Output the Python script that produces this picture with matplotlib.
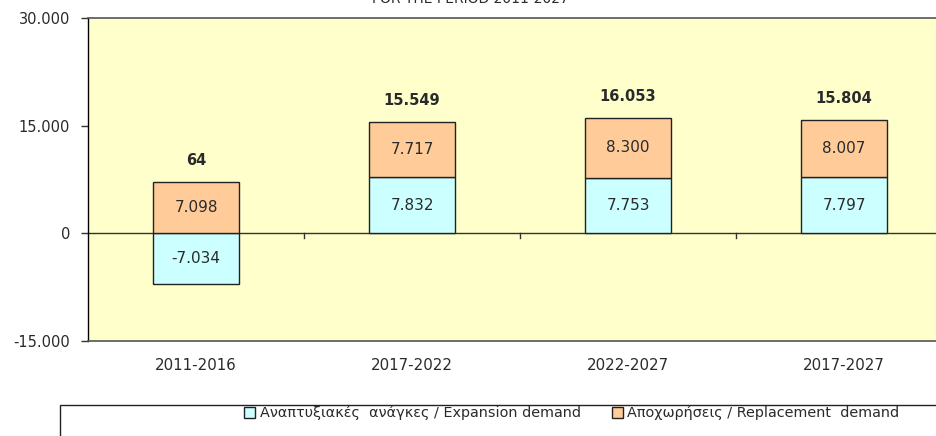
import matplotlib
matplotlib.use("Agg")
import matplotlib.pyplot as plt
from matplotlib.patches import Patch, Rectangle

categories = ["2011-2016", "2017-2022", "2022-2027", "2017-2027"]
expansion = [-7034, 7832, 7753, 7797]
replacement = [7098, 7717, 8300, 8007]
totals = [64, 15549, 16053, 15804]
series_names = ["Αναπτυξιακές  ανάγκες / Expansion demand",
                "Αποχωρήσεις / Replacement  demand"]
yticks = [-15000, 0, 15000, 30000]
title = "FOR THE PERIOD 2011-2027"

c_exp = "#CCFFFF"
c_rep = "#FFCC99"
bg = "#FFFFCC"

def fmt(v):
    return f"{v:,}".replace(",", ".")

W, H = 937, 436
fig = plt.figure(figsize=(W / 100, H / 100), dpi=100)
fig.patch.set_facecolor("white")
ax = fig.add_axes([88 / W, 1 - 341 / H, 864 / W, 323 / H])
ax.set_facecolor(bg)
ax.set_xlim(0, 4)
ax.set_ylim(-15000, 30000)

x = [i + 0.5 for i in range(len(categories))]
bw = 0.4
ax.bar(x, expansion, width=bw, color=c_exp, edgecolor="#222222", linewidth=1.0, zorder=3)
rep_bottom = [max(e, 0) for e in expansion]
ax.bar(x, replacement, width=bw, bottom=rep_bottom, color=c_rep, edgecolor="#222222",
       linewidth=1.0, zorder=3)

txt_col = "#2a2a2a"
for xi, e, r, b, t in zip(x, expansion, replacement, rep_bottom, totals):
    ax.text(xi, e / 2, fmt(e), ha="center", va="center", zorder=4,
            family="DejaVu Sans", fontsize=11, color=txt_col)
    ax.text(xi, b + r / 2, fmt(r), ha="center", va="center", zorder=4,
            family="DejaVu Sans", fontsize=11, color=txt_col)
    ax.annotate(fmt(t), (xi, b + r), xytext=(0, 10), textcoords="offset points",
                ha="center", va="bottom", fontweight="bold", zorder=4,
                family="DejaVu Sans", fontsize=10.5, color=txt_col)

# spines
for s in ["top", "right"]:
    ax.spines[s].set_color("#555555")
    ax.spines[s].set_linewidth(1.2)
ax.spines["left"].set_color("black")
ax.spines["left"].set_linewidth(1.0)
ax.spines["bottom"].set_color("#555555")
ax.spines["bottom"].set_linewidth(1.2)

# zero axis line with category separators
ax.axhline(0, color="#333333", linewidth=1.0, zorder=2)
for xb in [1, 2, 3]:
    ax.plot([xb, xb], [0, -700], color="#333333", linewidth=1.0, zorder=2)

ax.set_yticks(yticks)
ax.set_yticklabels([fmt(v) for v in yticks], family="DejaVu Sans", fontsize=10.5,
                   color=txt_col)
ax.tick_params(axis="y", length=5, width=1, color="#333333", pad=8)
ax.set_xticks(x)
ax.set_xticklabels(categories, family="DejaVu Sans", fontsize=10.8, color=txt_col)
ax.tick_params(axis="x", length=0, pad=12)

# title (cut at top edge, as in the reference)
fig.text(470 / W, 1 - 6 / H, title, ha="center", va="bottom", fontsize=10,
         family="DejaVu Sans", color=txt_col)

# legend box
fig.patches.append(Rectangle((60 / W, -0.01), (W - 60) / W + 0.05, (H - 405) / H + 0.01,
                             transform=fig.transFigure, facecolor="white",
                             edgecolor="#222222", linewidth=1.0, figure=fig))
handles = [Patch(facecolor=c_exp, edgecolor="#222222", linewidth=1.0),
           Patch(facecolor=c_rep, edgecolor="#222222", linewidth=1.0)]
leg = fig.legend(handles, series_names, loc="center", bbox_to_anchor=(572 / W, 1 - 413 / H),
                 ncol=2, frameon=False, handlelength=0.75, handleheight=0.75,
                 handletextpad=0.3, columnspacing=2.2,
                 prop=dict(family="DejaVu Sans", size=10.4))
for t in leg.get_texts():
    t.set_color(txt_col)

fig.savefig("out.png", dpi=100)
